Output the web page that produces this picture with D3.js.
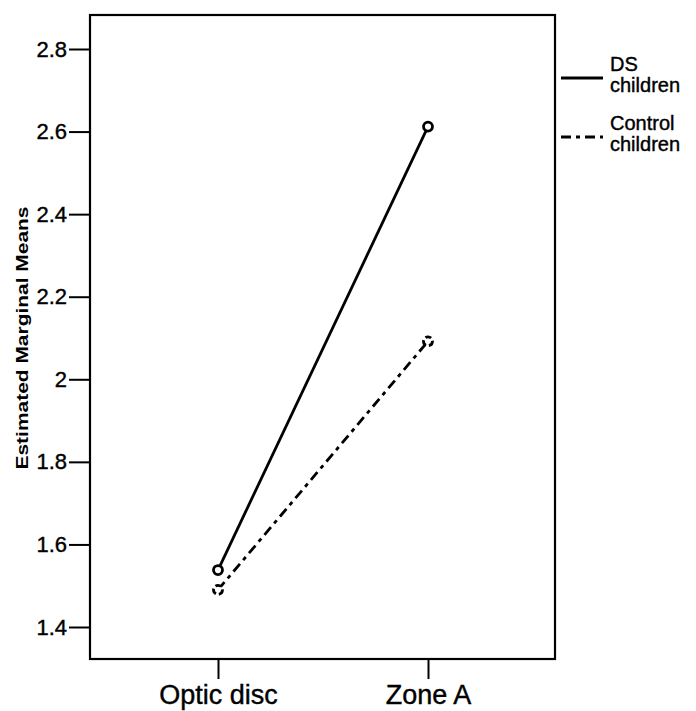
<!DOCTYPE html>
<html><head><meta charset="utf-8">
<script src="https://cdn.jsdelivr.net/npm/d3@7"></script>
<style>body{margin:0;background:#fff;} svg{display:block;}</style>
</head><body>
<script>
const categories = ["Optic disc", "Zone A"];
const seriesNames = ["DS children", "Control children"];
const dsValues = [1.538, 2.612];
const controlValues = [1.49, 2.092];
const yTicks = [1.4, 1.6, 1.8, 2.0, 2.2, 2.4, 2.6, 2.8];

(function () {
const W = 696, H = 711;
const mLeft = 90, mRight = 555, mTop = 15, mBottom = 659;
const FONT = "Arial, 'Liberation Sans', sans-serif";
const svg = d3.select("body").append("svg").attr("width", W).attr("height", H);

const x = d3.scalePoint().domain(categories).range([218, 428]);
const y = d3.scaleLinear().domain([1.4, 2.8]).range([627, 49]);

// frame
svg.append("rect").attr("x", mLeft).attr("y", mTop).attr("width", mRight-mLeft).attr("height", mBottom-mTop)
  .attr("fill", "none").attr("stroke", "#000").attr("stroke-width", 2.2);

// y axis
const yAxis = d3.axisLeft(y).tickValues(yTicks).tickSize(21).tickPadding(2)
  .tickFormat(d => String(+d.toFixed(1)));
const gy = svg.append("g").attr("transform", `translate(${mLeft},0)`).call(yAxis);
gy.select(".domain").remove();
gy.selectAll(".tick line").attr("stroke", "#000").attr("stroke-width", 2);
gy.selectAll(".tick text").attr("font-family", FONT).attr("font-size", 22).attr("fill", "#000")
  .attr("stroke", "#000").attr("stroke-width", 0.4);

// x axis
const xAxis = d3.axisBottom(x).tickSize(20).tickPadding(6);
const gx = svg.append("g").attr("transform", `translate(0,${mBottom})`).call(xAxis);
gx.select(".domain").remove();
gx.selectAll(".tick line").attr("stroke", "#000").attr("stroke-width", 2);
gx.selectAll(".tick text").attr("font-family", FONT).attr("font-size", 27).attr("fill", "#000")
  .attr("stroke", "#000").attr("stroke-width", 0.4);

// y title
svg.append("text").attr("transform", `translate(28,338) rotate(-90)`).attr("text-anchor", "middle")
  .attr("font-family", FONT).attr("font-weight", "bold").attr("font-size", 17)
  .attr("textLength", 263).attr("lengthAdjust", "spacingAndGlyphs")
  .text("Estimated Marginal Means");

const line = d3.line().x((d, i) => x(categories[i])).y(d => y(d));
const series = [
  {name: seriesNames[0], values: dsValues, dash: null},
  {name: seriesNames[1], values: controlValues, dash: "10,5,4,5"}
];
series.forEach(s => {
  svg.append("path").datum(s.values).attr("d", line).attr("fill", "none").attr("stroke", "#000")
    .attr("stroke-width", 2.8).attr("stroke-dasharray", s.dash);
  svg.selectAll(null).data(s.values).enter().append("circle")
    .attr("cx", (d, i) => x(categories[i])).attr("cy", d => y(d)).attr("r", 4.5)
    .attr("fill", "#fff").attr("stroke", "#000").attr("stroke-width", 2.8)
    .attr("stroke-dasharray", s.dash ? "6,3" : null);
});

// legend
const legendY = [78, 137];
const legendLabels = [["DS", "children"], ["Control", "children"]];
series.forEach((s, i) => {
  svg.append("line").attr("x1", 561).attr("x2", 603).attr("y1", legendY[i]).attr("y2", legendY[i])
    .attr("stroke", "#000").attr("stroke-width", 2.8).attr("stroke-dasharray", s.dash);
  const t = svg.append("text").attr("font-family", FONT)
    .attr("font-size", 20).attr("fill", "#000").attr("stroke", "#000").attr("stroke-width", 0.4);
  t.append("tspan").attr("x", 610).attr("y", legendY[i] - 7).text(legendLabels[i][0]);
  t.append("tspan").attr("x", 610).attr("y", legendY[i] + 14).text(legendLabels[i][1]);
});
})();
</script>
</body></html>
